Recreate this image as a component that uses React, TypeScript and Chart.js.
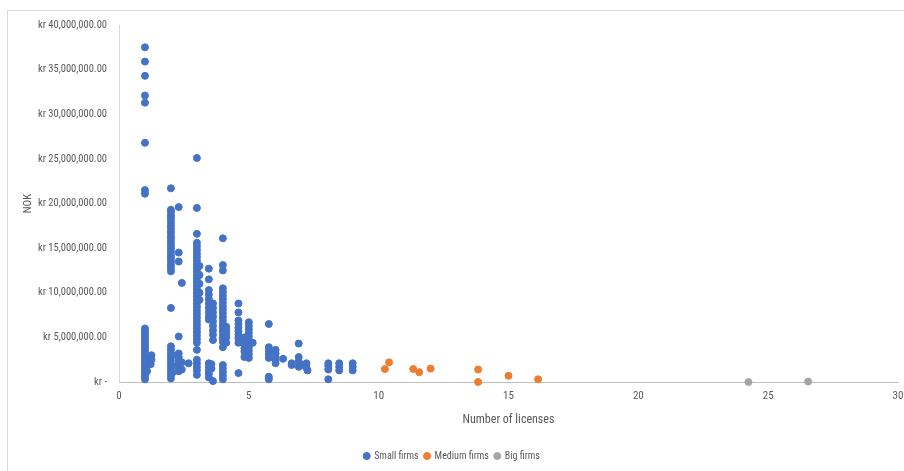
import React, { useEffect, useRef } from "react";
import { Chart, registerables } from "chart.js";

Chart.register(...registerables);

// values: [number of licenses, NOK in millions]
const smallFirms: [number, number][] = [
  [1, 37.5], [1, 35.9], [1, 34.3], [1, 32.1], [1, 31.3], [1, 26.8], [1, 21.5], [1, 21.1],
  [1, 6.0], [1, 5.7], [1, 5.4], [1, 5.1], [1, 4.8], [1, 4.5], [1, 4.2], [1, 3.9], [1, 3.6], [1, 3.3],
  [1, 3.0], [1, 2.7], [1, 2.4], [1, 2.1], [1, 1.8], [1, 1.5], [1, 1.2], [1, 0.9], [1, 0.6], [1, 0.3],
  [1.08, 2.4], [1.08, 1.8], [1.08, 1.2], [1.25, 3.0], [1.25, 2.5], [1.22, 2.0],
  [2, 21.7], [2, 19.3], [2, 19.0], [2, 18.6], [2, 18.3], [2, 17.9], [2, 17.5], [2, 17.2], [2, 16.8],
  [2, 16.4], [2, 16.1], [2, 15.7], [2, 15.3], [2, 15.0], [2, 14.6], [2, 14.2], [2, 13.9], [2, 13.5],
  [2, 13.1], [2, 12.8], [2, 12.4], [2, 8.3], [2, 4.0], [2, 3.6], [2, 3.2], [2, 2.8], [2, 2.4], [2, 2.0],
  [2, 1.6], [2, 1.2], [2, 0.8], [2, 0.4], [2.05, 3.0], [2.05, 1.8], [2.05, 1.0],
  [2.3, 19.6], [2.3, 14.5], [2.3, 13.5], [2.3, 5.1], [2.3, 3.2], [2.3, 2.8], [2.3, 2.4], [2.3, 2.0],
  [2.3, 1.6], [2.3, 1.2], [2.42, 11.1], [2.42, 2.2], [2.42, 1.4], [2.68, 2.1],
  [3, 25.1], [3, 19.5], [3, 16.6], [3, 15.6], [3, 15.2], [3, 14.8], [3, 14.4], [3, 14.0], [3, 13.6],
  [3, 13.2], [3, 12.8], [3, 12.4], [3, 12.0], [3, 11.6], [3, 11.2], [3, 10.8], [3, 10.4], [3, 10.0],
  [3, 9.6], [3, 9.2], [3, 8.8], [3, 8.4], [3, 8.0], [3, 7.6], [3, 7.2], [3, 6.8], [3, 6.4], [3, 6.0],
  [3, 5.6], [3, 5.2], [3, 4.8], [3, 4.4], [3, 3.6], [3, 2.5], [3, 2.1], [3, 1.7], [3, 1.3], [3, 0.8],
  [3.1, 13.0], [3.1, 12.0], [3.1, 11.0], [3.1, 10.0], [3.1, 9.2],
  [3.46, 12.7], [3.46, 11.5], [3.46, 10.3], [3.46, 9.8], [3.46, 9.3], [3.46, 8.8], [3.46, 8.3],
  [3.46, 7.8], [3.46, 7.3], [3.46, 7.0], [3.46, 2.1], [3.46, 1.7], [3.46, 1.3], [3.46, 0.9], [3.46, 0.5],
  [3.62, 8.8], [3.62, 8.3], [3.62, 7.8], [3.62, 7.3], [3.62, 6.8], [3.62, 6.3], [3.62, 5.8], [3.62, 5.3],
  [3.62, 4.7], [3.62, 0.1], [3.56, 1.5], [3.56, 2.0],
  [4, 16.1], [4, 13.1], [4, 12.5], [4, 10.5], [4, 10.1], [4, 9.7], [4, 9.3], [4, 8.9], [4, 8.5],
  [4, 8.1], [4, 7.7], [4, 7.3], [4, 6.9], [4, 6.5], [4, 6.1], [4, 5.7], [4, 5.3], [4, 4.9], [4, 4.5],
  [4, 3.9], [4, 1.9], [4, 1.5], [4, 1.1], [4, 0.7], [4, 0.3],
  [4.13, 6.2], [4.13, 5.8], [4.13, 5.4], [4.13, 5.0], [4.13, 4.4],
  [4.6, 8.8], [4.6, 7.8], [4.6, 6.9], [4.6, 6.5], [4.6, 6.1], [4.6, 5.7], [4.6, 5.3], [4.6, 4.9],
  [4.6, 4.4], [4.6, 1.0],
  [4.83, 5.0], [4.83, 4.6], [4.83, 4.2], [4.83, 3.8], [4.83, 3.4], [4.83, 2.8],
  [5, 6.7], [5, 6.3], [5, 5.9], [5, 5.5], [5, 5.1], [5, 4.7], [5, 4.3], [5, 3.9], [5, 3.5], [5, 3.1],
  [5, 2.7], [5.15, 4.4],
  [5.77, 6.5], [5.77, 3.9], [5.77, 3.5], [5.77, 3.1], [5.77, 2.7], [5.77, 0.6], [5.77, 0.3],
  [6.03, 3.6], [6.03, 3.2], [6.03, 2.8], [6.03, 2.4], [6.03, 2.1], [6.32, 2.6], [6.65, 2.1], [6.65, 1.9],
  [6.92, 4.3], [6.92, 2.8], [6.92, 2.3], [6.92, 1.7], [7.1, 1.9], [7.22, 1.6], [7.22, 2.1], [7.26, 1.3],
  [8.06, 2.1], [8.06, 1.8], [8.06, 1.4], [8.06, 0.3], [8.48, 2.1], [8.48, 1.7], [8.48, 1.3],
  [9, 2.1], [9, 1.7], [9, 1.3],
];

const mediumFirms: [number, number][] = [
  [10.24, 1.45], [10.4, 2.2], [11.33, 1.45], [11.56, 1.1], [12.0, 1.5],
  [13.83, 1.4], [13.83, 0.0], [15.0, 0.7], [16.14, 0.3],
];

const bigFirms: [number, number][] = [
  [24.24, 0.0], [26.54, 0.05],
];

const seriesNames = ["Small firms", "Medium firms", "Big firms"];
const seriesColors = ["#4472C4", "#ED7D31", "#A5A5A5"];

const xTitle = "Number of licenses";
const yTitle = "NOK";

const FONT = "'Liberation Sans Narrow', 'Roboto Condensed', 'Liberation Sans', sans-serif";
const TEXT = "#595959";

function fmtKr(v: number): string {
  if (v === 0) return "kr -";
  const n = Math.round(v * 1e6);
  return "kr " + n.toLocaleString("en-US", { minimumFractionDigits: 2, maximumFractionDigits: 2 });
}

export default function App() {
  const ref = useRef<HTMLCanvasElement | null>(null);

  useEffect(() => {
    if (!ref.current) return;
    const toPts = (arr: [number, number][]) => arr.map(([x, y]) => ({ x, y }));
    const all = [smallFirms, mediumFirms, bigFirms];
    const chart = new Chart(ref.current, {
      type: "scatter",
      data: {
        datasets: all.map((arr, i) => ({
          label: seriesNames[i],
          data: toPts(arr),
          backgroundColor: seriesColors[i],
          borderColor: seriesColors[i],
          borderWidth: 1,
          pointRadius: 3.5,
          pointHoverRadius: 3.5,
          clip: false as any,
        })),
      },
      options: {
        responsive: false,
        animation: false,
        layout: { padding: { left: 0, right: 0, top: 25, bottom: 0 } },
        plugins: {
          tooltip: { enabled: false },
          legend: {
            position: "bottom",
            labels: {
              usePointStyle: true,
              pointStyle: "circle",
              boxWidth: 5,
              boxHeight: 5,
              padding: 6,
              color: TEXT,
              font: { family: FONT, size: 10 },
            },
          },
        },
        scales: {
          x: {
            type: "linear",
            min: 0,
            max: 30,
            grid: { display: false, drawTicks: false },
            border: { display: true, color: "#BFBFBF", width: 1 },
            ticks: { stepSize: 5, padding: 8, color: TEXT, font: { family: FONT, size: 11 } },
            title: {
              display: true,
              text: xTitle,
              color: TEXT,
              font: { family: FONT, size: 12 },
              padding: { top: 4, bottom: 18 },
            },
            afterFit: (s: any) => {
              s.height = 63;
              s.paddingLeft = 0;
              s.paddingRight = 6;
            },
          },
          y: {
            type: "linear",
            min: 0,
            max: 40,
            grid: { display: false, drawTicks: false },
            border: { display: true, color: "#D9D9D9", width: 1 },
            ticks: {
              stepSize: 5,
              padding: 12,
              color: TEXT,
              font: { family: FONT, size: 10.5 },
              callback: (v: any) => fmtKr(Number(v)),
            },
            title: {
              display: true,
              text: yTitle,
              color: TEXT,
              font: { family: FONT, size: 11 },
              padding: { top: 22, bottom: 0 },
            },
            afterFit: (s: any) => { s.width = 119; },
          },
        },
      },
    });
    return () => chart.destroy();
  }, []);

  return (
    <div style={{ position: "fixed", left: 0, top: 0, width: 904, height: 471, overflow: "hidden", background: "#fff" }}>
      <div
        style={{
          position: "absolute",
          left: 7,
          top: 10,
          width: 920,
          height: 480,
          border: "1px solid #D9D9D9",
          boxSizing: "border-box",
        }}
      />
      <canvas ref={ref} width={904} height={471} style={{ position: "absolute", left: 0, top: 0 }} />
    </div>
  );
}
